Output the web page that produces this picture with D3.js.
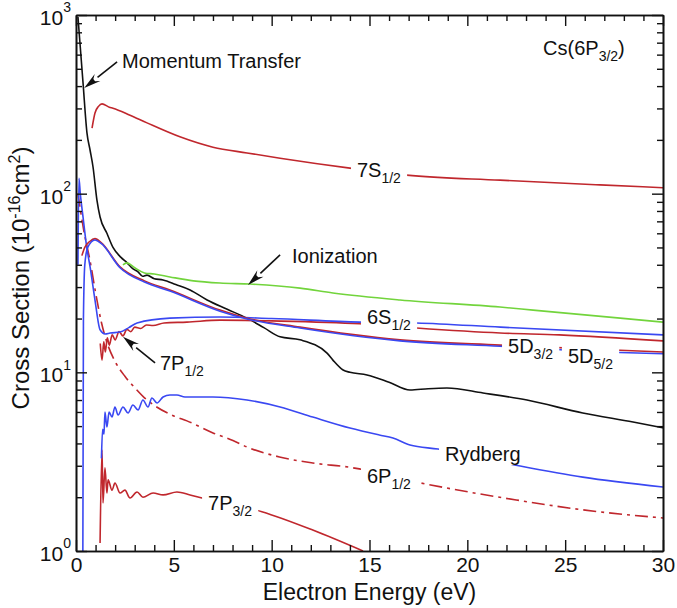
<!DOCTYPE html>
<html><head><meta charset="utf-8">
<script src="https://cdn.jsdelivr.net/npm/d3@7"></script>
<style>body{margin:0;background:#fff} text{font-family:"Liberation Sans",Arial,sans-serif;fill:#111}</style>
</head><body><svg id="c" width="677" height="608"></svg>
<script>
// ---------- data (energy eV, cross section 1e-16 cm^2) ----------
const xTickValues = [0, 5, 10, 15, 20, 25, 30];
const yTickExponents = [0, 1, 2, 3];

const momentumTransfer = [[0.1,975],[0.36,416],[0.56,219],[0.72,175],[0.87,141],[1.07,92],[1.23,74],[1.58,60],[1.89,50],[2.3,44],[2.61,41],[2.9,38],[3.17,36.5],[3.4,34.5],[3.63,35],[4.0,33.4],[4.45,32.9],[5.1,31],[5.83,28.9],[6.7,25.4],[7.7,22.6],[8.74,20.1],[9.6,17.8],[10.43,15.8],[11.45,15.2],[12.83,12.8],[13.13,11.7],[13.65,10.3],[14.0,10.0],[14.87,9.67],[16.0,8.8],[17.07,7.96],[18.0,8.1],[18.96,8.17],[20.8,7.66],[23.05,7.0],[25.9,5.92],[28.47,5.27],[30,4.89]];
const s7S12 = [[0.82,233],[0.97,283],[1.15,308],[1.33,318],[1.7,305],[1.89,301],[2.76,275],[3.63,249],[5.31,208],[7.0,182],[8.74,169],[10.43,158],[14.0,139],[16.9,127],[21.67,119],[26.78,112],[30,108]];
const ionization = [[2.40,39.9],[2.6,41],[3.0,38.5],[3.5,36],[4.0,35.5],[4.8,34.2],[6,32.5],[7.36,31.6],[8.89,31.2],[11.45,29.6],[13.13,27.8],[16.56,25.4],[21.67,23.2],[23.36,22.3],[30,19.1]];
const s5Dred = [[0.3,45],[0.45,50],[0.7,54],[0.97,56],[1.3,53],[2.25,38.9],[3.5,32.5],[4.8,28.9],[7.36,22.3],[8.74,20.1],[11.45,17.9],[16.56,15.2],[21.67,14.2],[27.8,13.3],[30,13.0]];
const s5Dblue = [[0.35,1.0],[0.38,20],[0.45,40],[0.6,50],[0.97,55],[1.3,52.5],[2.25,38.5],[3.5,32],[4.8,28.5],[7.36,22.0],[8.74,19.9],[11.45,17.7],[16.56,15.0],[21.67,14.0],[27.8,12.9],[30,12.7]];
const s6S12 = [[0.1,40],[0.15,122],[0.22,100],[0.36,74],[0.55,50],[0.72,38.9],[0.97,25.4],[1.23,17.3],[1.5,16.4],[1.74,16.6],[2.25,16.8],[2.7,17.8],[3.12,18.9],[4.8,20.1],[7.36,20.4],[10,20.0],[14.5,19.1],[17.4,18.9],[21.7,17.9],[30,16.2]];
const s7P12 = [[1.24,14.5],[1.33,11.7],[1.42,14.8],[1.5,13.0],[1.6,15.6],[1.7,14.2],[1.85,16.2],[2.0,15.2],[2.2,16.9],[2.4,16.0],[2.6,17.4],[2.8,16.9],[3.0,17.9],[3.3,17.6],[3.6,18.4],[3.94,18.3],[4.5,18.9],[5.67,19.1],[7.36,19.6],[10,19.4],[14.5,18.7],[17.4,17.7],[21.67,16.6],[24.7,16.2],[30,15.0]];
const s6P12 = [[0.1,100],[0.4,62],[0.72,42],[1.0,28],[1.3,19],[1.6,14.5],[2.0,11.5],[2.5,9.5],[3.0,8.2],[3.5,7.2],[3.94,6.6],[5.0,5.7],[5.67,5.35],[7.0,4.58],[8.02,4.15],[8.74,3.82],[10.4,3.36],[12.1,3.11],[14.0,2.94],[17.4,2.43],[22.5,1.93],[25.9,1.70],[30,1.53]];
const rydberg = [[1.3,3.3],[1.36,4.8],[1.43,4.5],[1.48,6.0],[1.58,4.94],[1.69,6.0],[1.84,5.62],[1.99,6.4],[2.15,5.77],[2.4,6.4],[2.66,5.92],[2.91,6.56],[3.17,6.15],[3.42,7.0],[3.68,6.4],[3.88,7.18],[4.14,6.73],[4.45,7.28],[4.8,7.46],[5.16,7.46],[5.57,7.28],[7.0,7.28],[8.74,7.0],[10.43,6.4],[12.1,5.62],[14.0,4.88],[15.5,4.46],[16.2,4.29],[17.07,3.92],[18.5,3.72],[22.7,2.99],[25.9,2.59],[30,2.28]];
const s7P32 = [[1.23,1.11],[1.33,3.67],[1.38,1.86],[1.48,2.92],[1.58,2.11],[1.64,2.5],[1.84,2.19],[1.99,2.40],[2.25,2.11],[2.50,2.19],[2.76,1.98],[3.12,2.14],[3.42,2.0],[3.94,2.11],[4.45,2.06],[5.16,2.14],[5.83,2.06],[6.44,1.98],[9.5,1.66],[12.1,1.31],[14.67,1.0]];

// labels: [main, subscript, energy, value(baseline), knockout, trailing]
const labels = [
  ["Momentum Transfer", "", 2.35, 505, false],
  ["Cs(6P", "3/2", 23.87, 597, false, ")"],
  ["7S", "1/2", 14.36, 124, true],
  ["Ionization", "", 11.04, 40.9, false],
  ["6S", "1/2", 14.87, 18.7, true],
  ["5D", "3/2", 22.08, 12.8, true],
  ["5D", "5/2", 25.14, 11.3, true],
  ["7P", "1/2", 4.29, 10.3, false],
  ["Rydberg", "", 18.86, 3.19, true],
  ["6P", "1/2", 14.87, 2.40, true],
  ["7P", "3/2", 6.75, 1.70, true]
];
// arrows: [tailE, tailV, tipE, tipV]
const arrows = [
  [2.10, 546, 0.42, 390],
  [10.43, 45.4, 8.79, 30.8],
  [4.04, 11.3, 2.40, 15.8]
];

// ---------- drawing ----------
const RED = "#c0272d", BLUE = "#3a48f2", GREEN = "#72d43c";
const svg = d3.select("#c");
const L = 76, R = 663, T = 15, B = 551;
const x = d3.scaleLinear().domain([0, 30]).range([L, R]);
const y = d3.scaleLog().domain([1, 1000]).range([B, T]);

svg.append("defs").append("clipPath").attr("id", "clip")
  .append("rect").attr("x", L).attr("y", T).attr("width", R - L).attr("height", B - T);
const plot = svg.append("g").attr("clip-path", "url(#clip)");
const line = d3.line().x(d => x(d[0])).y(d => y(d[1])).curve(d3.curveMonotoneX);

const series = [
  [momentumTransfer, "#111", null],
  [s7S12, RED, null],
  [ionization, GREEN, null],
  [s6P12, RED, "13,5,3,5"],
  [s7P32, RED, null],
  [rydberg, BLUE, null],
  [s7P12, RED, null],
  [s6S12, BLUE, null],
  [s5Dred, RED, null],
  [s5Dblue, BLUE, null]
];
series.forEach(([d, c, dash]) => {
  plot.append("path").datum(d).attr("d", line).attr("fill", "none")
    .attr("stroke", c).attr("stroke-width", 1.6)
    .attr("stroke-dasharray", dash);
});

// labels
const lg = svg.append("g");
labels.forEach(([main, sub, e, v, knock, tail]) => {
  const g = lg.append("g");
  const t = g.append("text").attr("x", x(e)).attr("y", y(v)).attr("font-size", 20);
  t.append("tspan").text(main);
  if (sub) t.append("tspan").attr("font-size", 14).attr("dy", 6).text(sub);
  if (tail) t.append("tspan").attr("dy", -6).text(tail);
  if (knock) {
    const bb = t.node().getBBox();
    g.insert("rect", "text").attr("x", bb.x - 6).attr("y", bb.y + 2)
      .attr("width", bb.width + 12).attr("height", bb.height - 2).attr("fill", "#fff");
  }
});

// arrows
arrows.forEach(([e0, v0, e1, v1]) => {
  const x0 = x(e0), y0 = y(v0), x1 = x(e1), y1 = y(v1);
  const ang = Math.atan2(y1 - y0, x1 - x0);
  const len = 17, hw = 4.5;
  const bx = x1 - len * Math.cos(ang), by = y1 - len * Math.sin(ang);
  svg.append("line").attr("x1", x0).attr("y1", y0).attr("x2", bx).attr("y2", by)
    .attr("stroke", "#111").attr("stroke-width", 1.6);
  const px = -Math.sin(ang) * hw, py = Math.cos(ang) * hw;
  svg.append("path").attr("d", `M${x1},${y1}L${bx + px},${by + py}L${bx + px * 0.3 + (x1-bx)*0.25},${by + py*0.3 + (y1-by)*0.25}L${bx - px * 0.3 + (x1-bx)*0.25},${by - py*0.3 + (y1-by)*0.25}L${bx - px},${by - py}Z`)
    .attr("fill", "#111");
});

// axes
const minorX = d3.range(0, 31, 1).filter(v => v % 5 !== 0);
const majorY = yTickExponents.map(k => Math.pow(10, k));
const minorY = [];
[0, 1, 2].forEach(k => { for (let i = 2; i <= 9; i++) minorY.push(i * Math.pow(10, k)); });

function styleAxis(g) {
  g.selectAll("path.domain").attr("stroke", "#111").attr("stroke-width", 1.6);
  g.selectAll(".tick line").attr("stroke", "#111").attr("stroke-width", 1.4);
}
// bottom
const gb = svg.append("g").attr("transform", `translate(0,${B})`)
  .call(d3.axisBottom(x).tickValues(xTickValues).tickSizeInner(-11).tickSizeOuter(0).tickPadding(6).tickFormat(d3.format("d")));
gb.selectAll("text").attr("font-size", 21).attr("fill", "#111").attr("font-family", '"Liberation Sans",Arial,sans-serif');
styleAxis(gb);
styleAxis(svg.append("g").attr("transform", `translate(0,${B})`)
  .call(d3.axisBottom(x).tickValues(minorX).tickSizeInner(-6).tickSizeOuter(0).tickFormat("")));
// top
styleAxis(svg.append("g").attr("transform", `translate(0,${T})`)
  .call(d3.axisTop(x).tickValues(xTickValues).tickSizeInner(-11).tickSizeOuter(0).tickFormat("")));
styleAxis(svg.append("g").attr("transform", `translate(0,${T})`)
  .call(d3.axisTop(x).tickValues(minorX).tickSizeInner(-6).tickSizeOuter(0).tickFormat("")));
// left
const gl = svg.append("g").attr("transform", `translate(${L},0)`)
  .call(d3.axisLeft(y).tickValues(majorY).tickSizeInner(-11).tickSizeOuter(0).tickFormat(""));
styleAxis(gl);
styleAxis(svg.append("g").attr("transform", `translate(${L},0)`)
  .call(d3.axisLeft(y).tickValues(minorY).tickSizeInner(-6).tickSizeOuter(0).tickFormat("")));
gl.selectAll(".tick").each(function (d) {
  const t = d3.select(this).append("text").attr("x", -5).attr("y", 0)
    .attr("text-anchor", "end").attr("font-size", 21).attr("fill", "#111")
    .attr("font-family", '"Liberation Sans",Arial,sans-serif').attr("dy", "0.45em");
  t.append("tspan").text("10");
  t.append("tspan").attr("font-size", 14).attr("dy", "-0.9em").text(String(Math.round(Math.log10(d))));
});
// right
styleAxis(svg.append("g").attr("transform", `translate(${R},0)`)
  .call(d3.axisRight(y).tickValues(majorY).tickSizeInner(-11).tickSizeOuter(0).tickFormat("")));
styleAxis(svg.append("g").attr("transform", `translate(${R},0)`)
  .call(d3.axisRight(y).tickValues(minorY).tickSizeInner(-6).tickSizeOuter(0).tickFormat("")));

// axis titles
svg.append("text").attr("x", (L + R) / 2).attr("y", 600).attr("text-anchor", "middle")
  .attr("font-size", 23).text("Electron Energy (eV)");
const yt = svg.append("text").attr("transform", `translate(29,278) rotate(-90)`)
  .attr("text-anchor", "middle").attr("font-size", 24);
yt.append("tspan").text("Cross Section (10");
yt.append("tspan").attr("font-size", 16).attr("dy", -9).text("-16");
yt.append("tspan").attr("dy", 9).text("cm");
yt.append("tspan").attr("font-size", 16).attr("dy", -9).text("2");
yt.append("tspan").attr("dy", 9).text(")");
</script></body></html>
